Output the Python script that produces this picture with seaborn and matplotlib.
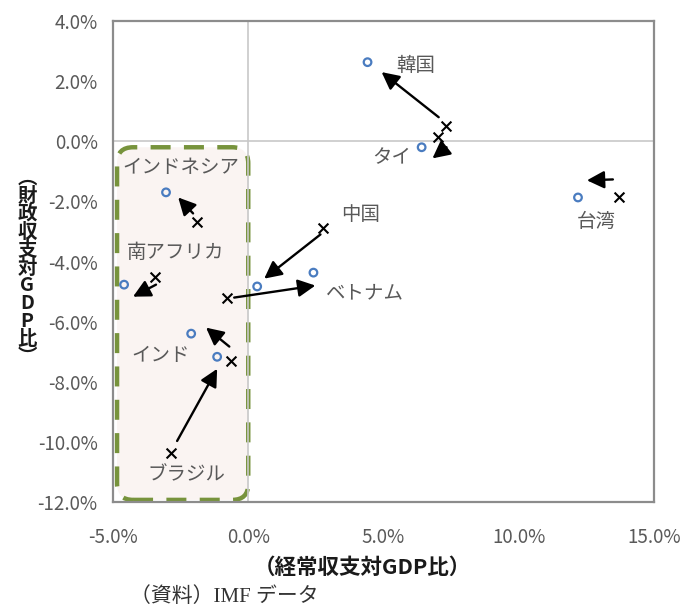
import matplotlib
matplotlib.use("Agg")
import matplotlib.pyplot as plt
import seaborn as sns
import pandas as pd
from matplotlib.patches import FancyBboxPatch
from matplotlib.transforms import IdentityTransform

# ---- data (percent of GDP) ----
countries = ["韓国", "タイ", "台湾", "インドネシア", "南アフリカ", "中国", "ベトナム", "インド", "ブラジル"]
# current (circles)
now_ca = [4.41, 6.41, 12.19, -3.04, -4.59, 0.33, 2.41, -2.11, -1.15]
now_fb = [2.63, -0.20, -1.87, -1.70, -4.77, -4.83, -4.37, -6.40, -7.17]
# past (x markers)
past_ca = [7.30, 7.00, 13.70, -1.89, -3.44, 2.78, -0.78, -0.63, -2.85]
past_fb = [0.50, 0.13, -1.87, -2.67, -4.53, -2.87, -5.23, -7.30, -10.37]
# arrow start / end (as drawn)
arrow_x0 = [7.04, 7.33, 13.48, -2.04, -3.41, 2.67, -0.52, -0.70, -2.63]
arrow_y0 = [0.80, -0.20, -1.27, -2.40, -4.77, -3.10, -5.20, -6.83, -9.97]
arrow_x1 = [4.93, 6.81, 12.52, -2.59, -4.26, 0.59, 2.48, -1.56, -1.15]
arrow_y1 = [2.30, -0.57, -1.30, -1.87, -5.17, -4.57, -4.80, -6.20, -7.57]
# label positions
label_x = [6.20, 5.30, 12.85, -2.48, -2.70, 4.15, 4.30, -3.25, -2.30]
label_y = [2.53, -0.53, -2.67, -0.87, -3.70, -2.43, -5.03, -7.13, -11.10]
# highlight box (data coords)
box_x = [-4.85, 0.0]
box_y = [-11.93, -0.20]

xticks = [-5, 0, 5, 10, 15]
yticks = [-12, -10, -8, -6, -4, -2, 0, 2, 4]

sns.set_theme(style="white")
plt.rcParams["font.family"] = ["Noto Sans CJK JP", "DejaVu Sans"]

W, H = 683, 607
fig = plt.figure(figsize=(W / 100, H / 100), dpi=100)
L, R, T, B = 113, 654, 21, 502
ax = fig.add_axes([L / W, 1 - B / H, (R - L) / W, (B - T) / H])
ax.set_xlim(-5, 15)
ax.set_ylim(-12, 4)

# zero lines
ax.axhline(0, color="#c8c8c8", lw=1.2, zorder=1)
ax.axvline(0, color="#c8c8c8", lw=1.2, zorder=1)

fig.canvas.draw()
# rounded dashed box in pixel space
p0 = ax.transData.transform((box_x[0], box_y[0]))
p1 = ax.transData.transform((box_x[1], box_y[1]))
rad = 16
box = FancyBboxPatch((p0[0] + rad, p0[1] + rad), (p1[0] - p0[0]) - 2 * rad, (p1[1] - p0[1]) - 2 * rad,
                     boxstyle=f"round,pad={rad},rounding_size={rad}", transform=IdentityTransform(),
                     facecolor="#faf4f2", edgecolor="#77933c", lw=3.2, linestyle=(0, (4.5, 3.0)),
                     zorder=0.5)
ax.add_patch(box)

df_now = pd.DataFrame({"ca": now_ca, "fb": now_fb})
df_past = pd.DataFrame({"ca": past_ca, "fb": past_fb})
sns.scatterplot(data=df_now, x="ca", y="fb", ax=ax, marker="o", s=30,
                facecolor="none", edgecolor="#4a7cc0", linewidth=1.6, zorder=4)
sns.scatterplot(data=df_past, x="ca", y="fb", ax=ax, marker="x", s=50,
                color="black", linewidth=1.5, zorder=4)

for x0, y0, x1, y1 in zip(arrow_x0, arrow_y0, arrow_x1, arrow_y1):
    ax.annotate("", xy=(x1, y1), xytext=(x0, y0),
                arrowprops=dict(arrowstyle="-|>,head_length=0.75,head_width=0.38", color="black",
                                lw=1.7, shrinkA=0, shrinkB=0, mutation_scale=14), zorder=5)

for name, lx, ly in zip(countries, label_x, label_y):
    ax.text(lx, ly, name, ha="center", va="center", fontsize=14, color="#595959", zorder=6)

ax.set_xticks(xticks)
ax.set_yticks(yticks)
ax.set_xticklabels([f"{v:.1f}%" for v in xticks])
ax.set_yticklabels([f"{v:.1f}%" for v in yticks])
ax.tick_params(axis="both", labelsize=13.5, colors="#595959", length=0)
ax.tick_params(axis="x", pad=18)
ax.tick_params(axis="y", pad=11)
ax.set_xlabel("")
ax.set_ylabel("")
for s in ax.spines.values():
    s.set_color("#8c8c8c")
    s.set_linewidth(1.6)

fig.text(362 / W, 1 - 567 / H, "（経常収支対GDP比）", ha="center", va="center",
         fontsize=15.5, fontweight="bold", color="#1a1a1a")
ylab = "\n".join(["︵", "財", "政", "収", "支", "対", "G", "D", "P", "比", "︶"])
fig.text(27 / W, 1 - 268 / H, ylab, ha="center", va="center", fontsize=14,
         fontweight="bold", color="#1a1a1a", linespacing=0.93)
fig.text(130 / W, 1 - 597 / H, "（資料）IMF データ", ha="left", va="center", fontsize=15,
         color="#333333", family=["Liberation Serif", "Noto Sans CJK JP"])

fig.savefig("out.png", dpi=100)
